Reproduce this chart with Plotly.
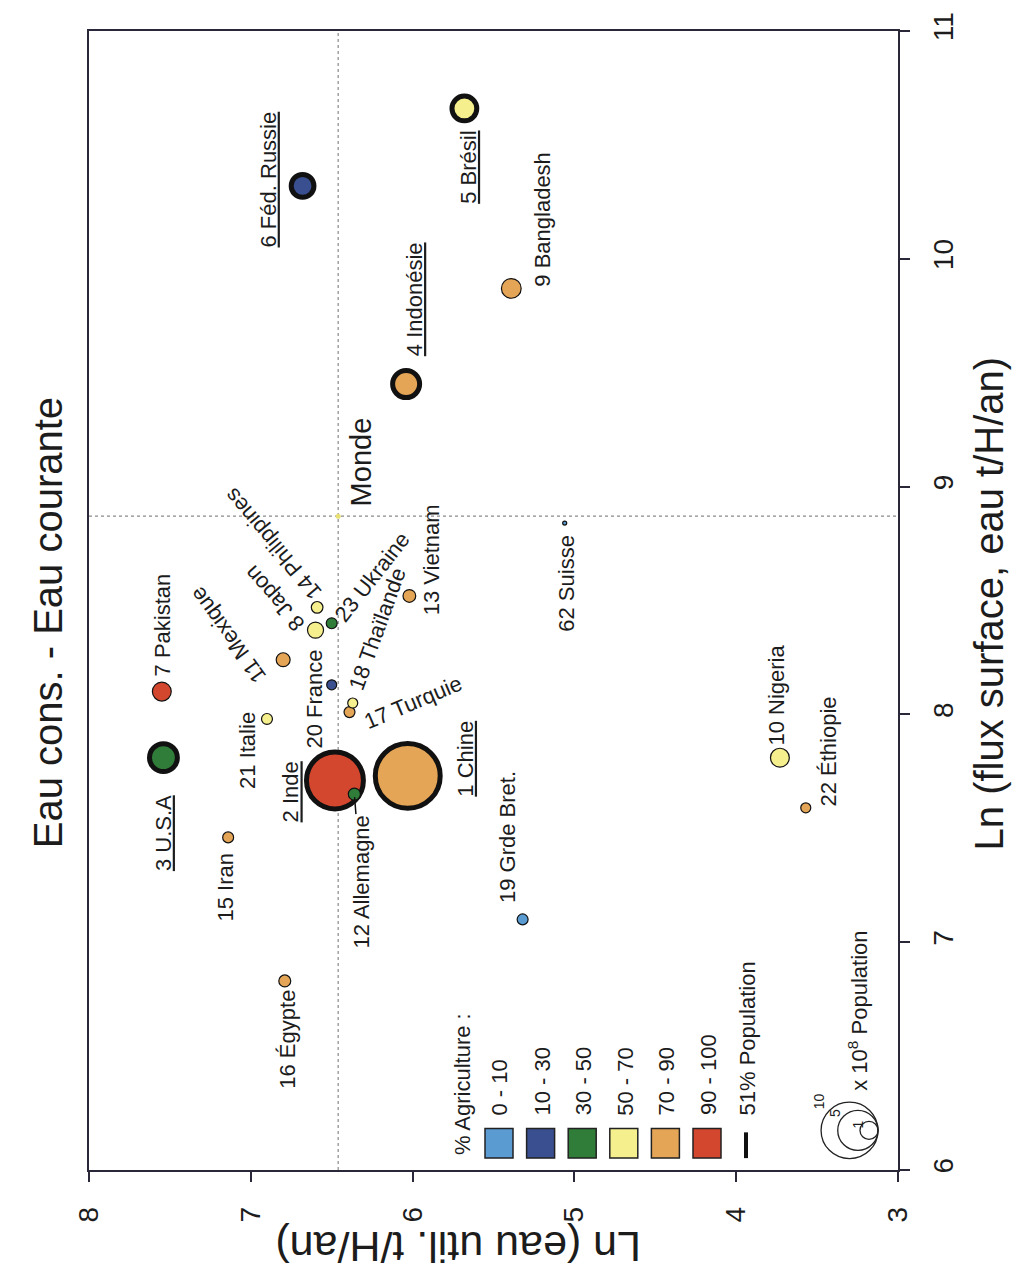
import math
import plotly.graph_objects as go

# ---- data -----------------------------------------------------------------
pays = [
    "1 Chine", "2 Inde", "3 U.S.A", "4 Indonésie", "5 Brésil", "6 Féd. Russie",
    "7 Pakistan", "8 Japon", "9 Bangladesh", "10 Nigeria", "11 Mexique",
    "12 Allemagne", "13 Vietnam", "14 Philippines", "15 Iran", "16 Égypte",
    "17 Turquie", "18 Thaïlande", "19 Grde Bret.", "20 France", "21 Italie",
    "22 Éthiopie", "23 Ukraine", "62 Suisse",
]
# Ln (eau util. t/H/an)
eau_util = [
    6.03, 6.48, 7.54, 6.04, 5.68, 6.68,
    7.55, 6.60, 5.39, 3.73, 6.80,
    6.36, 6.02, 6.59, 7.14, 6.79,
    6.39, 6.37, 5.32, 6.50, 6.90,
    3.57, 6.50, 5.06,
]
# Ln (flux surface, eau t/H/an)
flux_surface = [
    7.73, 7.71, 7.81, 9.45, 10.66, 10.32,
    8.10, 8.37, 9.87, 7.81, 8.24,
    7.65, 8.52, 8.47, 7.46, 6.83,
    8.01, 8.05, 7.10, 8.13, 7.98,
    7.59, 8.40, 8.84,
]
# population, x 10^8
population = [
    13.0, 10.0, 2.4, 2.25, 1.9, 1.6,
    1.1, 0.8, 1.2, 1.1, 0.6,
    0.45, 0.5, 0.42, 0.37, 0.44,
    0.37, 0.31, 0.37, 0.31, 0.37,
    0.31, 0.37, 0.05,
]
# % agriculture class
agriculture = [
    "70 - 90", "90 - 100", "30 - 50", "70 - 90", "50 - 70", "10 - 30",
    "90 - 100", "50 - 70", "70 - 90", "50 - 70", "70 - 90",
    "30 - 50", "70 - 90", "50 - 70", "70 - 90", "70 - 90",
    "70 - 90", "50 - 70", "0 - 10", "10 - 30", "50 - 70",
    "70 - 90", "30 - 50", "0 - 10",
]
# countries forming 51 % of the world population
majeur = ["1 Chine", "2 Inde", "3 U.S.A", "4 Indonésie", "5 Brésil", "6 Féd. Russie"]

monde_eau = 6.46
monde_flux = 8.87

classes = ["0 - 10", "10 - 30", "30 - 50", "50 - 70", "70 - 90", "90 - 100"]
pop_legende = [10, 5, 1]

# ---- styles ---------------------------------------------------------------
couleurs = {
    "0 - 10": "#5a9bd2",
    "10 - 30": "#3a4f8f",
    "30 - 50": "#2f7d38",
    "50 - 70": "#f6ef8e",
    "70 - 90": "#e5a556",
    "90 - 100": "#d4472f",
}
K = 18.0  # px of diameter per sqrt(10^8 hab.)
FONT = "Liberation Sans, Arial, sans-serif"
INK = "#1c1c1c"
LINE = "#2a2838"

W, H = 1016, 1270
L, R, T, B = 89, 898, 20, 1170  # plot frame in px


def px(x):
    return (x - L) / (R - L)


def py(y):
    return (B - y) / (B - T)


# label placement: (dx px, dy px downward, angle)
placement = {
    "1 Chine": (58, -17, -90),
    "2 Inde": (-44, 11, -90),
    "3 U.S.A": (0, 75, -90),
    "4 Indonésie": (8, -85, -90),
    "5 Brésil": (4, 59, -90),
    "6 Féd. Russie": (-34, -6, -90),
    "7 Pakistan": (1, -67, -90),
    "8 Japon": (-41, -31, -131),
    "9 Bangladesh": (31, -69, -90),
    "10 Nigeria": (-3, -63, -90),
    "11 Mexique": (-55, -25, -126),
    "13 Vietnam": (23, -36, -90),
    "14 Philippines": (-44, -63, -130),
    "15 Iran": (-3, 50, -90),
    "16 Égypte": (3, 58, -90),
    "17 Turquie": (63, -10, -23),
    "18 Thaïlande": (24, -74, -70),
    "19 Grde Bret.": (-15, -82, -90),
    "20 France": (-17, 14, -90),
    "21 Italie": (-19, 31, -90),
    "22 Éthiopie": (23, -56, -90),
    "23 Ukraine": (40, -46, -52),
    "62 Suisse": (1, 60, -90),
}

# ---- figure ---------------------------------------------------------------
fig = go.Figure()

# big bubbles first so the small ones stay visible on top
ordre = sorted(range(len(pays)), key=lambda i: -population[i])
fig.add_trace(go.Scatter(
    x=[eau_util[i] for i in ordre],
    y=[flux_surface[i] for i in ordre],
    mode="markers",
    text=[pays[i] for i in ordre],
    hoverinfo="text",
    marker=dict(
        size=[K * math.sqrt(population[i]) for i in ordre],
        color=[couleurs[agriculture[i]] for i in ordre],
        line=dict(
            color="#111111",
            width=[5 if pays[i] in majeur else 1.2 for i in ordre],
        ),
        opacity=1,
    ),
    showlegend=False,
))

# world average
fig.add_trace(go.Scatter(
    x=[monde_eau], y=[monde_flux], mode="markers",
    marker=dict(size=5, color="#e8e070", line=dict(width=0)),
    hoverinfo="skip", showlegend=False,
))

shapes = [
    dict(type="line", xref="x", yref="paper", x0=monde_eau, x1=monde_eau, y0=0, y1=1,
         line=dict(color="#8a8a8a", width=1.2, dash="dot"), layer="below"),
    dict(type="line", xref="paper", yref="y", x0=0, x1=1, y0=monde_flux, y1=monde_flux,
         line=dict(color="#8a8a8a", width=1.2, dash="dot"), layer="below"),
]

annotations = []
for i, nom in enumerate(pays):
    txt = f"<u>{nom}</u>" if nom in majeur else nom
    if nom == "12 Allemagne":
        annotations.append(dict(
            x=eau_util[i], y=flux_surface[i], xref="x", yref="y",
            text=txt, textangle=-90, showarrow=True, arrowhead=0,
            arrowwidth=1.5, arrowcolor="#111", ax=7, ay=88, standoff=3,
            font=dict(family=FONT, size=22, color=INK),
        ))
        continue
    dx, dy, ang = placement[nom]
    annotations.append(dict(
        x=eau_util[i], y=flux_surface[i], xref="x", yref="y",
        text=txt, textangle=ang, showarrow=False,
        xshift=dx, yshift=-dy, xanchor="center", yanchor="middle",
        font=dict(family=FONT, size=22, color=INK),
    ))

annotations.append(dict(
    x=monde_eau, y=monde_flux, xref="x", yref="y", text="Monde",
    textangle=-90, showarrow=False, xshift=23, yshift=54,
    font=dict(family=FONT, size=29, color=INK),
))

# titles
annotations += [
    dict(x=px(24), y=py(618), xref="paper", yref="paper",
         text="Eau cons. - Eau courante", textangle=-90, showarrow=False,
         font=dict(family=FONT, size=40, color=INK)),
    dict(x=px(458), y=py(1274), xref="paper", yref="paper",
         text="Ln (eau util. t/H/an)", textangle=180, showarrow=False,
         font=dict(family=FONT, size=43, color=INK)),
    dict(x=px(1013), y=py(598), xref="paper", yref="paper",
         text="Ln (flux surface, eau t/H/an)", textangle=-90, showarrow=False,
         font=dict(family=FONT, size=40, color=INK)),
]

# agriculture legend
annotations.append(dict(
    x=px(462), y=py(1157), xref="paper", yref="paper", text="% Agriculture :",
    textangle=-90, showarrow=False, xanchor="center", yanchor="bottom",
    font=dict(family=FONT, size=22, color=INK),
))
for k, c in enumerate(classes):
    cx = 499 + k * 41.6
    shapes.append(dict(
        type="rect", xref="paper", yref="paper",
        x0=px(cx - 14), x1=px(cx + 14), y0=py(1158), y1=py(1128),
        fillcolor=couleurs[c], line=dict(color="#222", width=1.5),
    ))
    annotations.append(dict(
        x=px(cx + 1), y=py(1117), xref="paper", yref="paper", text=c,
        textangle=-90, showarrow=False, xanchor="center", yanchor="bottom",
        font=dict(family=FONT, size=22, color=INK),
    ))
shapes.append(dict(
    type="line", xref="paper", yref="paper",
    x0=px(746), x1=px(746), y0=py(1158), y1=py(1132),
    line=dict(color="#111", width=4),
))
annotations.append(dict(
    x=px(748), y=py(1117), xref="paper", yref="paper", text="51% Population",
    textangle=-90, showarrow=False, xanchor="center", yanchor="bottom",
    font=dict(family=FONT, size=22, color=INK),
))

# population size legend: nested circles sharing their right-hand point
tx, ty = 878, 1130
for p in pop_legende:
    r = K * math.sqrt(p) / 2
    shapes.append(dict(
        type="circle", xref="paper", yref="paper",
        x0=px(tx - 2 * r), x1=px(tx), y0=py(ty + r), y1=py(ty - r),
        line=dict(color="#222", width=1.3),
    ))
    annotations.append(dict(
        x=px(tx - 2 * r + 8), y=py(ty - r + 9), xref="paper", yref="paper",
        text=str(p), textangle=-90, showarrow=False,
        font=dict(family=FONT, size=14, color=INK),
    ))
annotations.append(dict(
    x=px(858), y=py(1092), xref="paper", yref="paper",
    text="x 10<sup>8</sup> Population", textangle=-90, showarrow=False,
    xanchor="center", yanchor="bottom",
    font=dict(family=FONT, size=22, color=INK),
))

axis_common = dict(
    showline=True, mirror=True, linecolor=LINE, linewidth=1.5,
    ticks="outside", ticklen=10, tickwidth=1.5, tickcolor=LINE,
    showgrid=False, zeroline=False, tickangle=-90,
    tickfont=dict(family=FONT, size=28, color=INK),
)

fig.update_layout(
    width=W, height=H,
    margin=dict(l=L, r=W - R, t=T, b=H - B),
    paper_bgcolor="white", plot_bgcolor="white",
    xaxis=dict(range=[8, 3], tickvals=[8, 7, 6, 5, 4, 3], ticklabelstandoff=14,
               **axis_common),
    yaxis=dict(range=[6, 11], tickvals=[6, 7, 8, 9, 10, 11], side="right",
               ticklabelstandoff=10, **axis_common),
    shapes=shapes,
    annotations=annotations,
    hovermode="closest",
)

fig.write_html("out.html")
